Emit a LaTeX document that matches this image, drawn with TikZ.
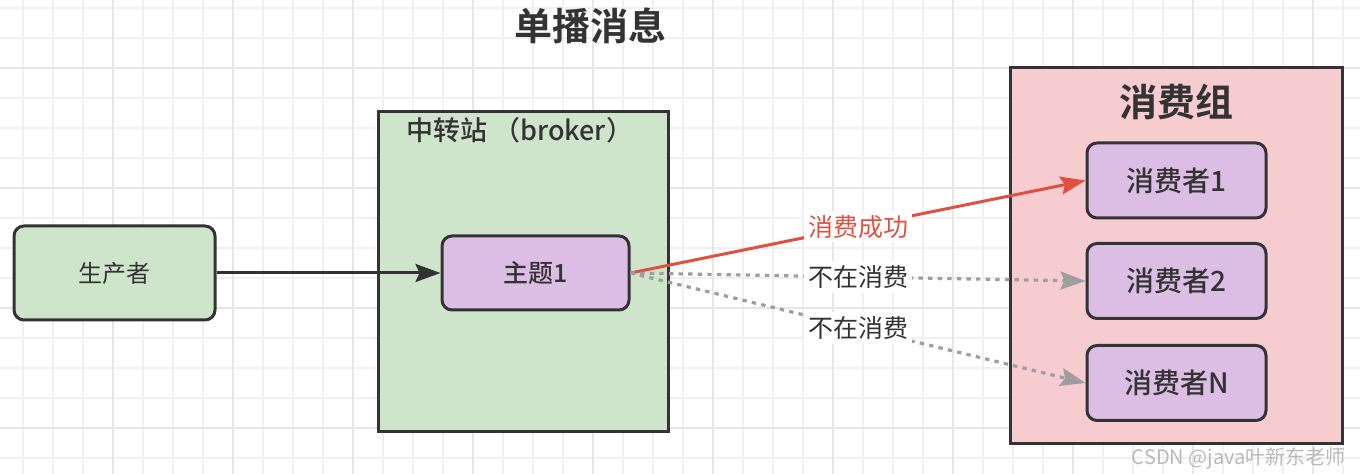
\documentclass[tikz,border=0pt]{standalone}
\usepackage{fontspec}
\setmainfont{Noto Sans CJK SC}[BoldFont={Noto Sans CJK SC Bold}]
\newfontfamily\medfont{Noto Sans CJK SC Medium}
\usetikzlibrary{arrows.meta}
\definecolor{ink}{HTML}{333333}
\definecolor{boxgreen}{HTML}{CFE5CB}
\definecolor{boxpurple}{HTML}{DCBDE3}
\definecolor{boxpink}{HTML}{F6CCD1}
\definecolor{okred}{HTML}{E1503F}
\definecolor{idlegray}{HTML}{9E9E9E}
\definecolor{gridminor}{HTML}{F0F0F0}
\definecolor{gridmajor}{HTML}{E6E6E6}
\tikzset{
    >=Stealth,
    group/.style={rectangle, draw=ink, line width=1.5pt, inner sep=0pt},
    unit/.style={rectangle, draw=ink, line width=1.5pt, rounded corners=5pt, text=ink, align=center},
    topic/.style={unit, fill=boxpurple, minimum width=93.5pt, minimum height=37pt, font=\medfont\fontsize{12.5pt}{14pt}\selectfont},
    consumer/.style={unit, fill=boxpurple, minimum width=89.5pt, minimum height=37.5pt, font=\medfont\fontsize{14pt}{16pt}\selectfont},
    flow/.style={line width=1.5pt, -{Stealth[length=12.5pt, width=9pt, inset=2pt]}},
    idle/.style={flow, draw=idlegray, line width=1.6pt, dash pattern=on 2.2pt off 2.6pt},
    tag/.style={fill=white, inner sep=2pt, font=\fontsize{12.5pt}{14pt}\selectfont}
}

\begin{document}
\begin{tikzpicture}[x=0.5pt, y=-0.5pt]
    \useasboundingbox (0,0) rectangle (1360,474);
    % grid
    \foreach \x in {23,53,...,1343}
        \draw[gridminor, line width=0.6pt] (\x,0) -- (\x,474);
    \foreach \y in {8,38,...,458}
        \draw[gridminor, line width=0.6pt] (0,\y) -- (1360,\y);
    \foreach \x in {113,233,...,1313}
        \draw[gridmajor, line width=0.8pt] (\x,0) -- (\x,474);
    \foreach \y in {68,188,308,428}
        \draw[gridmajor, line width=0.8pt] (0,\y) -- (1360,\y);

    \node[text=ink, font=\bfseries\fontsize{19pt}{22pt}\selectfont] (title) at (590,26) {单播消息};

    % boxes
    \node[group, fill=boxgreen, minimum width=145pt, minimum height=160pt] (broker) at (523,272) {};
    \node[anchor=west, text=ink, inner sep=0pt, font=\medfont\fontsize{13.5pt}{16pt}\selectfont] (brokertitle) at (406,130) {中转站 （broker）};
    \node[group, fill=boxpink, minimum width=166pt, minimum height=188pt] (cgroup) at (1176,256) {};
    \node[text=ink, font=\bfseries\fontsize{19pt}{22pt}\selectfont] (grouptitle) at (1176,102) {消费组};

    \node[unit, fill=boxgreen, minimum width=100.5pt, minimum height=47pt, font=\fontsize{12pt}{14pt}\selectfont] (producer) at (114.5,273) {生产者};
    \node[topic] (topic1) at (535.5,273) {主题1};
    \node[consumer] (c1) at (1176.5,180.5) {消费者1};
    \node[consumer] (c2) at (1176.5,281) {消费者2};
    \node[consumer] (cn) at (1176.5,383) {消费者N};

    % connectors
    \path (producer) edge[flow, draw=ink] (topic1);
    \path (topic1.east) edge[flow, draw=okred] node[tag, text=okred] {消费成功} (c1.west)
          (topic1.east) edge[idle] node[tag, text=ink] {不在消费} (c2.west)
          (topic1.east) edge[idle] node[tag, text=ink] {不在消费} (cn.west);

    \node[anchor=south east, inner sep=0pt, text=gray!55, font=\fontsize{10pt}{12pt}\selectfont] (mark) at (1346,470) {CSDN @java叶新东老师};
\end{tikzpicture}
\end{document}
